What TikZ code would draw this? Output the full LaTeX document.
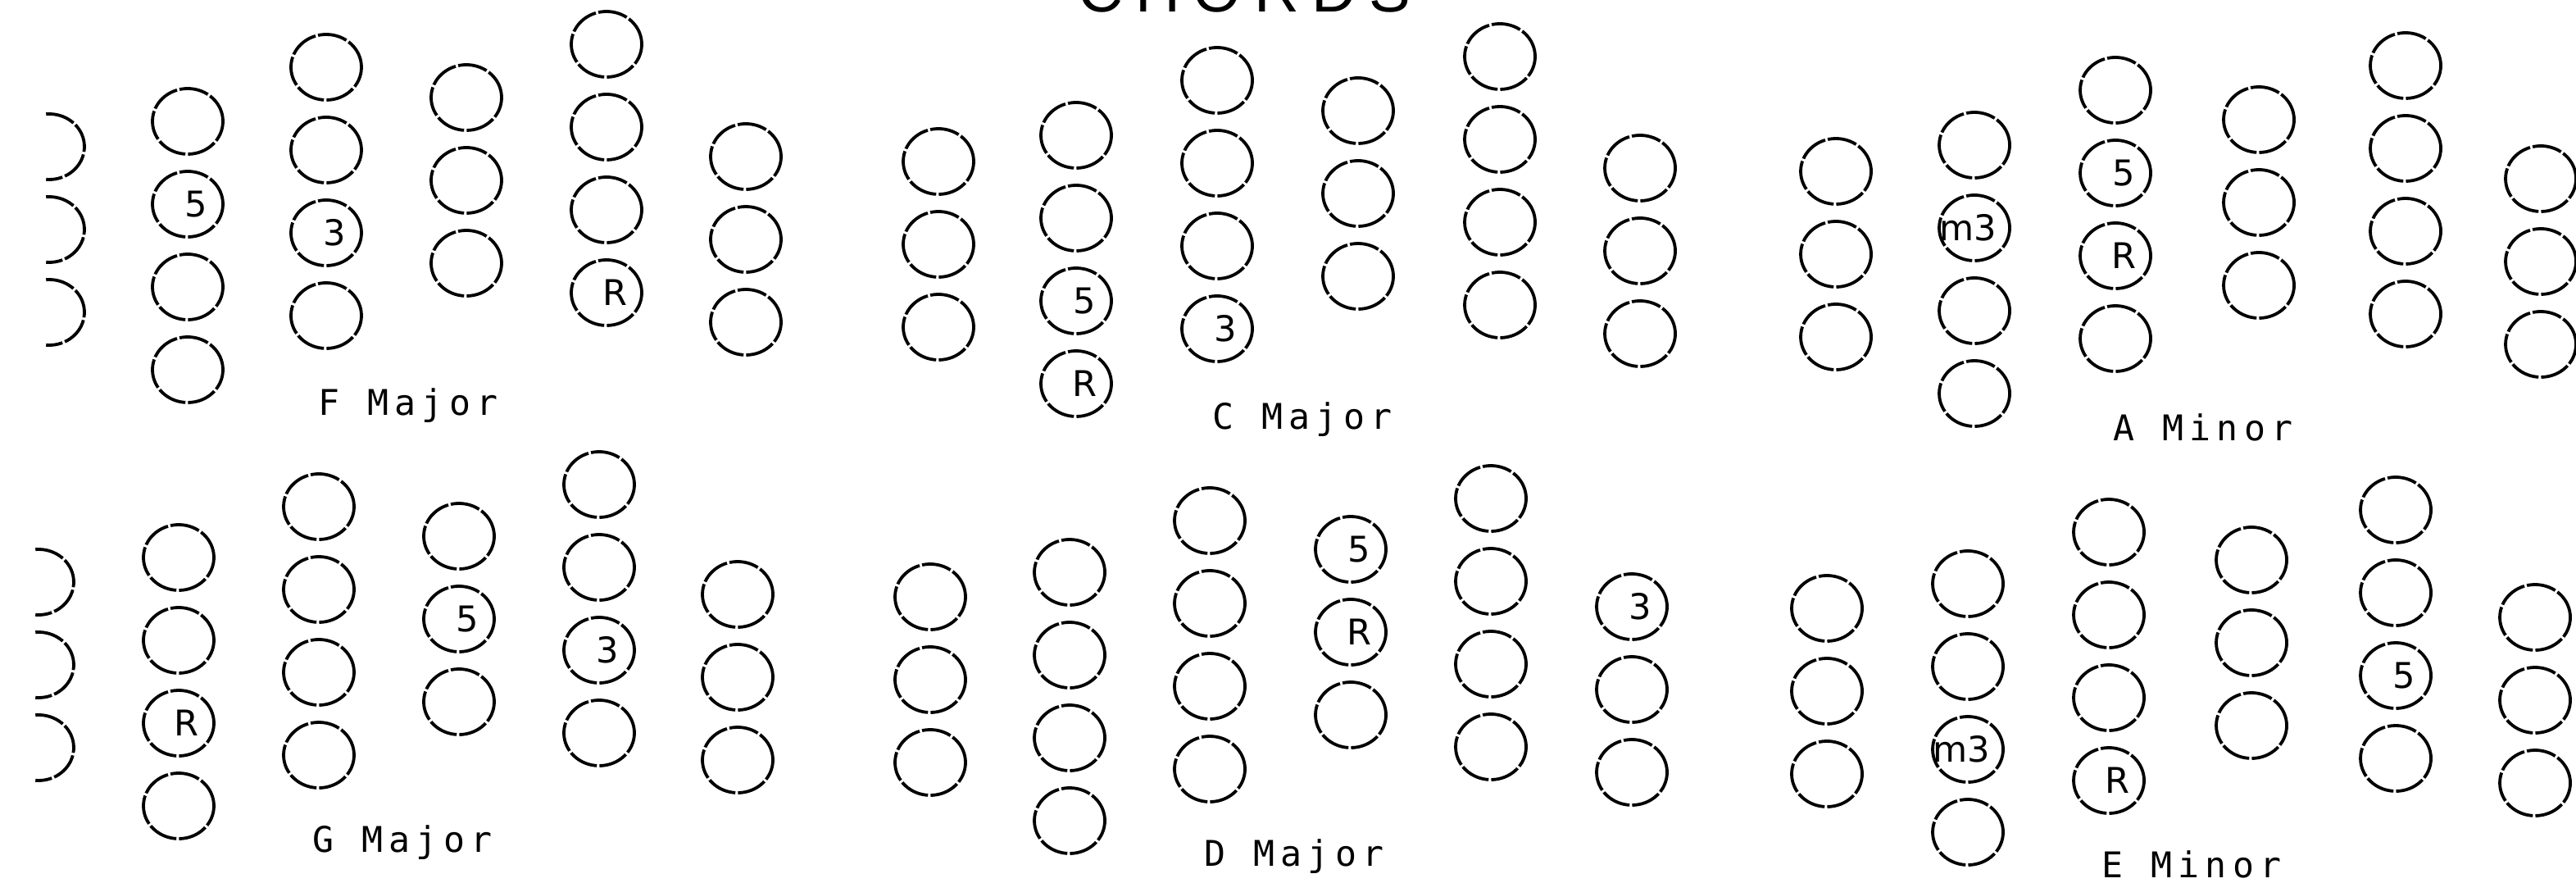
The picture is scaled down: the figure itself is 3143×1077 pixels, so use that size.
\documentclass[tikz,border=0pt]{standalone}
\usepackage{fontspec}
\usetikzlibrary{shapes.geometric}
\newfontfamily\lblfont[LetterSpace=17]{DejaVu Sans Mono}
\newfontfamily\numfont{DejaVu Sans}
\newfontfamily\ttlfont[LetterSpace=20]{Liberation Sans}
\tikzset{
  btn/.style={draw=black, line width=0.95pt, ellipse, inner sep=0pt,
    minimum width=21.5pt, minimum height=20pt, dash pattern=on 9pt off 0.8pt},
  btnarc/.style={draw=black, line width=0.95pt, dash pattern=on 9pt off 0.8pt},
  numlbl/.style={font=\numfont\fontsize{10.8pt}{12pt}\selectfont, inner sep=0pt},
  chordlbl/.style={font=\lblfont\fontsize{10.8pt}{12pt}\selectfont, anchor=base west, inner sep=0pt},
  titlelbl/.style={font=\ttlfont\fontsize{19pt}{22pt}\selectfont, anchor=base west, inner sep=0pt},
}
\newcommand\btncol[4]{\foreach \k in {1,...,#4}{\node[btn] (#1-\k) at (#2,{#3+101*(\k-1)}) {};}}
\newcommand\partcol[3]{\foreach \k in {1,2,3}{\coordinate (#1-\k) at (#2,{#3+101*(\k-1)});
  \draw[btnarc] (#1-\k) ++(95:10.75pt and 10pt) arc[start angle=95,end angle=-95,x radius=10.75pt,y radius=10pt];}}
\newcommand\onbtn[3]{\node[numlbl] (#1t) at ([xshift=#2]#1.center) {#3};}
\begin{document}
\begin{tikzpicture}[x=0.25pt,y=-0.25pt]
\useasboundingbox (0,0) rectangle (3143,1077);
\clip (0,0) rectangle (3143,1077);
\node[titlelbl] (title) at (1315,15) {CHORDS};
% F Major
\partcol{F0}{60}{179}
\btncol{F1}{229}{148}{4}
\btncol{F2}{398}{82}{4}
\btncol{F3}{569}{119}{3}
\btncol{F4}{740}{54}{4}
\btncol{F5}{910}{191}{3}
\onbtn{F1-2}{2.5pt}{5}
\onbtn{F2-3}{2.5pt}{3}
\onbtn{F4-4}{2.5pt}{R}
\node[chordlbl] (Flbl) at (388,507) {F Major};
% C Major
\btncol{C0}{1145}{197}{3}
\btncol{C1}{1313}{165}{4}
\btncol{C2}{1485}{98}{4}
\btncol{C3}{1657}{135}{3}
\btncol{C4}{1830}{69}{4}
\btncol{C5}{2001}{205}{3}
\onbtn{C1-3}{2.5pt}{5}
\onbtn{C1-4}{2.5pt}{R}
\onbtn{C2-4}{2.5pt}{3}
\node[chordlbl] (Clbl) at (1479,524) {C Major};
% A Minor
\btncol{A0}{2240}{209}{3}
\btncol{A1}{2409}{177}{4}
\btncol{A2}{2581}{110}{4}
\btncol{A3}{2756}{146}{3}
\btncol{A4}{2935}{80}{4}
\btncol{A5}{3100}{218}{3}
\onbtn{A1-2}{-2pt}{m3}
\onbtn{A2-2}{2.5pt}{5}
\onbtn{A2-3}{2.5pt}{R}
\node[chordlbl] (Albl) at (2578,538) {A Minor};
% G Major
\partcol{G0}{47}{710}
\btncol{G1}{218}{680}{4}
\btncol{G2}{389}{618}{4}
\btncol{G3}{560}{654}{3}
\btncol{G4}{731}{591}{4}
\btncol{G5}{900}{725}{3}
\onbtn{G1-3}{2.5pt}{R}
\onbtn{G3-2}{2.5pt}{5}
\onbtn{G4-3}{2.5pt}{3}
\node[chordlbl] (Glbl) at (381,1039) {G Major};
% D Major
\btncol{D0}{1135}{728}{3}
\btncol{D1}{1305}{698}{4}
\btncol{D2}{1476}{635}{4}
\btncol{D3}{1648}{670}{3}
\btncol{D4}{1819}{608}{4}
\btncol{D5}{1991}{740}{3}
\onbtn{D3-1}{2.5pt}{5}
\onbtn{D3-2}{2.5pt}{R}
\onbtn{D5-1}{2.5pt}{3}
\node[chordlbl] (Dlbl) at (1469,1056) {D Major};
% E Minor
\btncol{E0}{2229}{742}{3}
\btncol{E1}{2401}{712}{4}
\btncol{E2}{2573}{649}{4}
\btncol{E3}{2747}{683}{3}
\btncol{E4}{2923}{622}{4}
\btncol{E5}{3093}{753}{3}
\onbtn{E1-3}{-2pt}{m3}
\onbtn{E2-4}{2.5pt}{R}
\onbtn{E4-3}{2.5pt}{5}
\node[chordlbl] (Elbl) at (2564,1070) {E Minor};
\end{tikzpicture}
\end{document}
